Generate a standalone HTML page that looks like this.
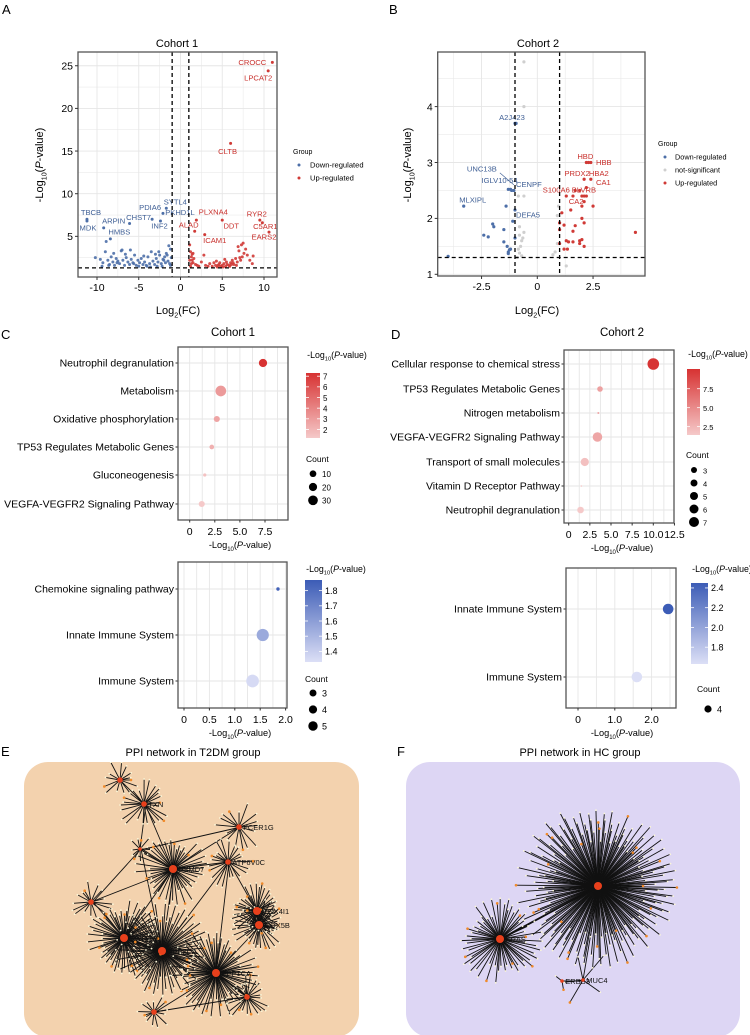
<!DOCTYPE html>
<html><head><meta charset="utf-8"><style>
body{margin:0;background:#fff}
svg{display:block;font-family:"Liberation Sans",Arial,sans-serif}
</style></head><body>
<svg id="fig" xmlns="http://www.w3.org/2000/svg" width="750" height="1035" viewBox="0 0 750 1035">
<rect width="750" height="1035" fill="#fff"/>
<g font-size="13" fill="#000">
<text x="2" y="14">A</text>
<text x="389" y="14">B</text>
<text x="1" y="339">C</text>
<text x="391" y="339">D</text>
<text x="1" y="756">E</text>
<text x="397" y="756">F</text>
</g>
</svg>
<script>
const NS='http://www.w3.org/2000/svg';
const svg=document.getElementById('fig');
function el(tag,attrs,parent,txt){const e=document.createElementNS(NS,tag);for(const k in attrs)e.setAttribute(k,attrs[k]);if(txt!==undefined)e.textContent=txt;(parent||svg).appendChild(e);return e;}
function lin(a,b){return v=>a+b*v;}

/* ---------- DATA: volcano A ---------- */
const aDownX=[-10.2,-9.6,-9.3,-9,-8.7,-8.5,-8.3,-8.1,-7.9,-7.7,-7.5,-7.3,-7.1,-6.9,-6.7,-6.5,-6.3,-6.1,-5.9,-5.7,-5.5,-5.3,-5.1,-4.9,-4.7,-4.5,-4.3,-4.1,-3.9,-3.7,-3.5,-3.3,-3.1,-2.9,-2.7,-2.5,-2.3,-2.1,-1.9,-1.7,-1.5,-1.3,-1.1,-8.9,-8.0,-7.0,-6.0,-5.0,-4.0,-3.0,-2.0,-1.4,-1.2,-2.6,-3.6,-6.6,-7.6,-9.4,-8.6,-5.6,-4.4,-2.2,-1.6,-1.2,-1.8,-2.8];
const aDownY=[2.5,2.3,1.9,3.2,2.2,1.7,2.6,2.0,1.6,2.4,2.1,1.8,3.3,2.2,1.6,2.5,2.0,1.7,2.3,1.9,2.8,1.6,2.2,1.9,2.4,1.7,2.0,1.6,2.6,1.8,3.2,2.1,1.7,2.4,2.0,2.8,1.8,2.3,2.6,3.0,2.1,1.8,2.5,4.4,3.0,3.4,3.4,1.5,1.5,2.9,2.2,3.9,1.6,3.2,1.4,2.9,1.9,1.5,1.6,1.8,2.7,1.5,2.8,3.5,1.9,1.5];
const aUpX=[1.1,1.2,1.3,1.4,1.5,1.6,1.8,2.0,2.2,2.5,3.0,3.5,3.8,4.0,4.2,4.4,4.6,4.8,5.0,5.2,5.4,5.6,5.8,6.0,6.2,6.4,6.6,6.8,7.0,7.2,7.4,7.6,7.8,8.0,8.3,8.7,1.1,1.3,1.5,1.2,4.3,4.7,5.1,5.5,5.9,6.3,6.7,7.1,7.5,4.5,5.3,6.1,6.9,1.4,2.8,3.3,7.3,8.6];
const aUpY=[4.0,3.2,2.6,2.2,1.9,2.4,1.7,1.6,1.5,2.0,1.6,1.8,1.5,1.9,1.6,1.4,1.7,1.5,1.6,1.8,1.5,1.7,1.6,1.9,2.2,1.7,2.4,2.0,3.3,2.2,2.6,3.0,3.5,2.8,2.2,2.7,2.2,1.8,3.0,1.5,2.1,1.9,1.4,2.0,1.5,1.9,1.6,2.5,4.2,1.6,2.3,1.7,3.8,2.9,2.8,1.5,4.0,1.8];
const aLabNames=['CROCC','LPCAT2','CLTB','SYTL4','PKHD1L','PDIA6','CHST7','INF2','TBCB','MDK','ARPIN','HMBS','PLXNA4','ALAD','ICAM1','DDT','RYR2','C5AR1','EARS2'];
const aLabX=[11,10.5,6,-1.7,-2.1,-3.4,-6.1,-2.4,-11.2,-11.2,-9.2,-8.4,1.9,1.7,2.9,5,9.5,9.8,10.6];
const aLabY=[25.4,24.4,15.9,8.3,7.7,7,6.5,6.8,7,6.8,6,4.7,6.9,5.6,5.2,6.9,6.9,6.6,5.5];
const aLabDx=[-20,-10,-3,9,17,-2,9,-1,4,1,10,9,17,-6,10,9,-3,3,-5];
const aLabDy=[0,7,8,-6,-1,-12,-6,5,-7,7,-7,-7,-8,-6,6,6,-6,4,5];
const aXTicks=[-10,-5,0,5,10];
const aYTicks=[5,10,15,20,25];

/* ---------- DATA: volcano B ---------- */
const bDownX=[-4,-3.3,-2.4,-2.2,-2,-1.95,-1.5,-1.4,-1.5,-1.35,-1.3,-1.25,-1.2,-1.3,-1.1,-1,-1.0,-1,-0.95,-1.3,-1.2,-1.15,-1.05];
const bDownY=[1.32,2.22,1.7,1.67,1.9,1.85,1.8,2.22,1.58,1.5,1.4,1.44,1.45,1.37,1.95,2.15,1.65,3.7,3.7,2.52,2.52,2.5,2.5];
const bNsX=[-0.6,-0.6,-0.6,-0.85,-0.8,-0.8,-0.6,-0.65,-0.7,-0.75,-0.85,-0.8,-0.7,-0.9,0.7,0.8,0.9,0.9,0.95,1.3];
const bNsY=[4.8,4,2.4,2.4,1.85,1.7,1.75,1.65,1.6,1.5,1.45,1.38,1.33,1.3,1.35,1.4,1.55,2.05,2.22,1.15];
const bUpX=[2.2,2.3,2.4,2.1,2.4,2.2,1.7,1.9,1.3,1.6,2,2.1,2.2,2.1,2.0,2.5,1.5,1.1,1.2,1,1.7,2.0,2.1,1.6,1,1.3,1.4,1.6,1.9,2.0,1.9,2.1,1.2,1.35,1,4.4];
const bUpY=[3,3,3,2.7,2.7,2.55,2.5,2.5,2.4,2.4,2.4,2.4,2.4,2.3,2.22,2.22,2.15,2.1,1.88,1.92,1.87,2.0,1.92,1.77,1.8,1.6,1.58,1.58,1.6,1.62,1.55,1.5,1.45,1.45,1.55,1.75];
const bLabNames=['A2J423','UNC13B','IGLV10-54','CENPF','MLXIPL','DEFA5','HBD','HBB','PRDX2','HBA2','CA1','S100A6','BLVRB','CA2'];
const bLabX=[-1,-1.05,-1.2,-1.05,-3.3,-1,2.2,2.4,2.1,2.4,2.2,1.3,2,2.1];
const bLabY=[3.7,2.6,2.52,2.5,2.22,2.15,3,3,2.7,2.7,2.55,2.4,2.4,2.3];
const bLabDx=[-3,-32,-11,15,9,13,-1,13,-7,8,17,-10,2,-8];
const bLabDy=[-6,-16,-9,-6,-6,5,-6,0,-6,-6,-5,-6,-6,0];
const bXTicks=[-2.5,0,2.5];
const bYTicks=[1,2,3,4];

/* ---------- DATA: enrichment ---------- */
const c1Terms=['Neutrophil degranulation','Metabolism','Oxidative phosphorylation','TP53 Regulates Metabolic Genes','Gluconeogenesis','VEGFA-VEGFR2 Signaling Pathway'];
const c1Vals=[7.3,3.1,2.7,2.2,1.5,1.2];
const c1Counts=[22,32,13,7,1,13];
const c1Ticks=[0,2.5,5,7.5];
const c1TickLabels=['0','2.5','5.0','7.5'];
const c1ColTicks=[7,6,5,4,3,2];
const c1CountLegend=[10,20,30];
const c2Terms=['Chemokine signaling pathway','Innate Immune System','Immune System'];
const c2Vals=[1.85,1.55,1.35];
const c2Counts=[3,5,5.1];
const c2Ticks=[0,0.5,1,1.5,2];
const c2TickLabels=['0','0.5','1.0','1.5','2.0'];
const c2ColTicks=[1.8,1.7,1.6,1.5,1.4];
const c2CountLegend=[3,4,5];
const d1Terms=['Cellular response to chemical stress','TP53 Regulates Metabolic Genes','Nitrogen metabolism','VEGFA-VEGFR2 Signaling Pathway','Transport of small molecules','Vitamin D Receptor Pathway','Neutrophil degranulation'];
const d1Vals=[10.0,3.7,3.5,3.4,1.9,1.5,1.4];
const d1Counts=[7,4,2.2,6,5.3,2,4.5];
const d1Ticks=[0,2.5,5,7.5,10,12.5];
const d1TickLabels=['0','2.5','5.0','7.5','10.0','12.5'];
const d1ColTicks=[7.5,5.0,2.5];
const d1CountLegend=[3,4,5,6,7];
const d2Terms=['Innate Immune System','Immune System'];
const d2Vals=[2.45,1.6];
const d2Counts=[4,4];
const d2Ticks=[0,1,2];
const d2TickLabels=['0','1.0','2.0'];
const d2ColTicks=[2.4,2.2,2.0,1.8];
const d2CountLegend=[4];

const BLUE='#4d6fa8',RED='#d03a36',GREY='#cfcfcf';

function lerpCol(c0,c1,t){t=Math.max(0,Math.min(1,t));const p=s=>[1,3,5].map(i=>parseInt(s.substr(i,2),16));const a=p(c0),b=p(c1);return 'rgb('+a.map((v,i)=>Math.round(v+(b[i]-v)*t)).join(',')+')';}

function panelFrame(g,x0,y0,x1,y1){
  const r=el('rect',{x:x0,y:y0,width:x1-x0,height:y1-y0,fill:'#fff'},g);
  
}
function frameBorder(g,x0,y0,x1,y1){
  const r=el('rect',{x:x0,y:y0,width:x1-x0,height:y1-y0,fill:'none',stroke:'#555','stroke-width':1.3},g);
  
}
function vgrid(g,x,y0,y1,w){const l=el('line',{x1:x,x2:x,y1:y0,y2:y1,stroke:'#e6e6e6','stroke-width':w},g);}
function hgrid(g,y,x0,x1,w){const l=el('line',{x1:x0,x2:x1,y1:y,y2:y,stroke:'#e6e6e6','stroke-width':w},g);}
function logLabel(g,x,y,size,rot,pre,sub,name){
  const t=el('text',{x:x,y:y,'font-size':size,'text-anchor':'middle',transform:rot?`rotate(-90 ${x} ${y})`:''},g);
  
  el('tspan',{},t,pre);
  el('tspan',{'font-size':size*0.65,dy:size*0.3},t,sub);
  if(sub==='2'){el('tspan',{dy:-size*0.3},t,'(FC)');}
  else{el('tspan',{dy:-size*0.3},t,'(');el('tspan',{'font-style':'italic'},t,'P');el('tspan',{},t,'-value)');}
  return t;
}

/* ---------- Volcano A ---------- */
(function(){
  const g=el('g',{});
  const X0=78,X1=277,Y0=52,Y1=277;
  const xs=lin(180.5,8.35),ys=lin(279,-8.53);
  panelFrame(g,X0,Y0,X1,Y1);
  for(let v=-12.5;v<=12.5;v+=2.5){const px=xs(v);if(px>X0&&px<X1)vgrid(g,px,Y0,Y1,v%5===0?0.9:0.5);}
  for(let v=2.5;v<=27.5;v+=2.5){const py=ys(v);if(py>Y0&&py<Y1)hgrid(g,py,X0,X1,v%5===0?0.9:0.5);}
  aDownX.forEach((x,i)=>{const c=el('circle',{cx:xs(x),cy:ys(aDownY[i]),r:1.5,fill:BLUE,opacity:0.9},g);});
  aUpX.forEach((x,i)=>{const c=el('circle',{cx:xs(x),cy:ys(aUpY[i]),r:1.5,fill:RED,opacity:0.9},g);});
  aLabNames.forEach((n,i)=>{const up=aLabX[i]>0;const px=xs(aLabX[i]),py=ys(aLabY[i]);
    const c=el('circle',{cx:px,cy:py,r:1.5,fill:up?RED:BLUE},g);
    const t=el('text',{x:px+aLabDx[i],y:py+aLabDy[i]+2.5,'font-size':7.6,'text-anchor':'middle',fill:up?'#c8302c':'#3f5f95'},g,n);});
  [[xs(-1),Y0,xs(-1),Y1],[xs(1),Y0,xs(1),Y1],[X0,ys(1.3),X1,ys(1.3)]].forEach(d=>{const l=el('line',{x1:d[0],y1:d[1],x2:d[2],y2:d[3],stroke:'#000','stroke-width':1.3,'stroke-dasharray':'4,3'},g);});
  frameBorder(g,X0,Y0,X1,Y1);
  aXTicks.forEach(v=>{const l=el('line',{x1:xs(v),x2:xs(v),y1:Y1,y2:Y1+3,stroke:'#333'},g);
    const t=el('text',{x:xs(v),y:Y1+14,'font-size':10.5,'text-anchor':'middle'},g,String(v));});
  aYTicks.forEach(v=>{const l=el('line',{x1:X0-3,x2:X0,y1:ys(v),y2:ys(v),stroke:'#333'},g);
    const t=el('text',{x:X0-5,y:ys(v)+3.8,'font-size':10.5,'text-anchor':'end'},g,String(v));});
  const ti=el('text',{x:177,y:47,'font-size':11,'text-anchor':'middle'},g,'Cohort 1');
  logLabel(g,43,165,11,true,'-Log','10','y-axis-title');
  logLabel(g,178,314,11,false,'Log','2','x-axis-title');
  const lg=el('g',{},g);
  const lt=el('text',{x:293,y:154,'font-size':7},lg,'Group');
  [['Down-regulated',BLUE,165],['Up-regulated',RED,178]].forEach(e=>{const c=el('circle',{cx:299,cy:e[2],r:1.5,fill:e[1]},lg);
    const t=el('text',{x:310,y:e[2]+2.5,'font-size':7.6},lg,e[0]);});
})();

/* ---------- Volcano B ---------- */
(function(){
  const g=el('g',{});
  const X0=437.7,X1=645,Y0=52,Y1=276;
  const xs=lin(537.3,22.3),ys=v=>274.3-55.9*(v-1);
  panelFrame(g,X0,Y0,X1,Y1);
  for(let v=-5;v<=5;v+=1.25){const px=xs(v);if(px>X0&&px<X1)vgrid(g,px,Y0,Y1,Math.abs(v%2.5)<1e-6?0.9:0.5);}
  for(let v=0.5;v<=5.5;v+=0.5){const py=ys(v);if(py>Y0&&py<Y1)hgrid(g,py,X0,X1,v%1===0?0.9:0.5);}
  bNsX.forEach((x,i)=>{const c=el('circle',{cx:xs(x),cy:ys(bNsY[i]),r:1.6,fill:GREY},g);});
  bDownX.forEach((x,i)=>{const c=el('circle',{cx:xs(x),cy:ys(bDownY[i]),r:1.6,fill:BLUE},g);});
  bUpX.forEach((x,i)=>{const c=el('circle',{cx:xs(x),cy:ys(bUpY[i]),r:1.6,fill:RED},g);});
  bLabNames.forEach((n,i)=>{const up=bLabX[i]>0;const px=xs(bLabX[i]),py=ys(bLabY[i]);
    if(n==='UNC13B'){const l=el('line',{x1:px-14,y1:py-12,x2:px,y2:py,stroke:'#3f5f95','stroke-width':0.6},g);}
    const t=el('text',{x:px+bLabDx[i],y:py+bLabDy[i]+2.5,'font-size':7.6,'text-anchor':'middle',fill:up?'#c8302c':'#3f5f95'},g,n);});
  [[xs(-1),Y0,xs(-1),Y1],[xs(1),Y0,xs(1),Y1],[X0,ys(1.3),X1,ys(1.3)]].forEach(d=>{const l=el('line',{x1:d[0],y1:d[1],x2:d[2],y2:d[3],stroke:'#000','stroke-width':1.3,'stroke-dasharray':'4,3'},g);});
  frameBorder(g,X0,Y0,X1,Y1);
  bXTicks.forEach(v=>{const l=el('line',{x1:xs(v),x2:xs(v),y1:Y1,y2:Y1+3,stroke:'#333'},g);
    const t=el('text',{x:xs(v),y:Y1+14,'font-size':10.5,'text-anchor':'middle'},g,String(v));});
  bYTicks.forEach(v=>{const l=el('line',{x1:X0-3,x2:X0,y1:ys(v),y2:ys(v),stroke:'#333'},g);
    const t=el('text',{x:X0-5,y:ys(v)+3.8,'font-size':10.5,'text-anchor':'end'},g,String(v));});
  const ti=el('text',{x:538,y:47,'font-size':11,'text-anchor':'middle'},g,'Cohort 2');
  logLabel(g,411,165,11,true,'-Log','10','y-axis-title');
  logLabel(g,537,314,11,false,'Log','2','x-axis-title');
  const lg=el('g',{},g);
  const lt=el('text',{x:658,y:146,'font-size':7},lg,'Group');
  [['Down-regulated',BLUE,157],['not-significant',GREY,170],['Up-regulated',RED,183]].forEach(e=>{const c=el('circle',{cx:665,cy:e[2],r:1.5,fill:e[1]},lg);
    const t=el('text',{x:675,y:e[2]+2.5,'font-size':7.3},lg,e[0]);});
})();

/* ---------- Dot plots ---------- */
function dotPlot(o){
  const g=el('g',{});
  const xs=lin(o.x0v,o.xk);
  panelFrame(g,o.X0,o.Y0,o.X1,o.Y1);
  for(let v=o.gridStart;v<=o.gridEnd+1e-9;v+=o.gridStep){const px=xs(v);if(px>o.X0&&px<o.X1)vgrid(g,px,o.Y0,o.Y1,0.9);}
  o.terms.forEach((t,i)=>hgrid(g,o.cy[i],o.X0,o.X1,0.9));
  const vmin=o.cmin,vmax=o.cmax;
  o.terms.forEach((term,i)=>{
    const c=el('circle',{cx:xs(o.vals[i]),cy:o.cy[i],r:o.rad(o.counts[i]),fill:lerpCol(o.lo,o.hi,(o.vals[i]-vmin)/(vmax-vmin))},g);
    const tk=el('line',{x1:o.X0-2.5,x2:o.X0,y1:o.cy[i],y2:o.cy[i],stroke:'#333'},g);
    const t=el('text',{x:o.X0-4,y:o.cy[i]+3.6,'font-size':10.5,'text-anchor':'end'},g,term);
  });
  frameBorder(g,o.X0,o.Y0,o.X1,o.Y1);
  o.ticks.forEach((v,i)=>{const l=el('line',{x1:xs(v),x2:xs(v),y1:o.Y1,y2:o.Y1+2.5,stroke:'#333'},g);
    const t=el('text',{x:xs(v),y:o.Y1+15,'font-size':10.5,'text-anchor':'middle'},g,o.tickLabels[i]);});
  logLabel(g,o.xlabX,o.Y1+28,9.2,false,'-Log','10','x-axis-title');
  const id='grad'+o.name;
  const defs=el('defs',{},g);const lgd=el('linearGradient',{id:id,x1:0,y1:1,x2:0,y2:0},defs);
  el('stop',{offset:0,'stop-color':o.lo},lgd);el('stop',{offset:1,'stop-color':o.hi},lgd);
  const cb=o.cb;
  logLabel(g,cb.x+31,cb.ty,8.8,false,'-Log','10','legend-title');
  const rb=el('rect',{x:cb.x,y:cb.y0,width:cb.w,height:cb.y1-cb.y0,fill:`url(#${id})`},g);
  const cys=v=>cb.y1-(v-o.cmin)/(o.cmax-o.cmin)*(cb.y1-cb.y0);
  o.colTicks.forEach(v=>{const l=el('line',{x1:cb.x,x2:cb.x+3,y1:cys(v),y2:cys(v),stroke:'#fff','stroke-width':0.8},g);
    const l2=el('line',{x1:cb.x+cb.w-3,x2:cb.x+cb.w,y1:cys(v),y2:cys(v),stroke:'#fff','stroke-width':0.8},g);
    const t=el('text',{x:cb.x+cb.w+3,y:cys(v)+3.3,'font-size':o.cbFont},g,o.colFmt(v));});
  const ct=el('text',{x:o.cnt.x,y:o.cnt.ty,'font-size':8.5},g,'Count');
  o.countLegend.forEach((v,i)=>{const y=o.cnt.y0+i*o.cnt.step;const c=el('circle',{cx:o.cnt.dx,cy:y,r:o.legRad(v),fill:'#000'},g);
    const t=el('text',{x:o.cnt.dx+9,y:y+3.3,'font-size':o.cbFont},g,String(v));});
  if(o.title){const ti=el('text',{x:o.title[0],y:o.title[1],'font-size':11.5,'text-anchor':'middle'},g,o.title[2]);}
}
dotPlot({name:'enrichment-cohort1-up',X0:178,X1:288,Y0:347,Y1:520,x0v:189.7,xk:10.04,gridStart:-1.25,gridEnd:10,gridStep:1.25,
  terms:c1Terms,vals:c1Vals,counts:c1Counts,cy:[363,391,419,447,475,504],rad:c=>1.5+c*0.12,legRad:c=>2.6+c*0.075,
  lo:'#f5c9c9',hi:'#d73232',cmin:1.2,cmax:7.3,ticks:c1Ticks,tickLabels:c1TickLabels,xlabX:240,
  cb:{x:306,w:14,y0:373,y1:438,ty:358},colTicks:c1ColTicks,colFmt:v=>String(v),cbFont:8,
  cnt:{x:306,ty:462,dx:313,y0:473.7,step:13.3},countLegend:c1CountLegend,title:[233,336,'Cohort 1']});
dotPlot({name:'enrichment-cohort1-down',X0:178,X1:287,Y0:562,Y1:708,x0v:184,xk:50.8,gridStart:-0.25,gridEnd:2.25,gridStep:0.25,
  terms:c2Terms,vals:c2Vals,counts:c2Counts,cy:[589,635,681],rad:c=>1.7+(c-3)*2.2,legRad:c=>3.5+(c-3)*0.6,
  lo:'#dcdff6',hi:'#3c5cb6',cmin:1.33,cmax:1.87,ticks:c2Ticks,tickLabels:c2TickLabels,xlabX:240,
  cb:{x:305,w:17,y0:580,y1:662,ty:572},colTicks:c2ColTicks,colFmt:v=>v.toFixed(1),cbFont:9,
  cnt:{x:305,ty:682,dx:313,y0:693,step:16.5},countLegend:c2CountLegend});
dotPlot({name:'enrichment-cohort2-up',X0:564,X1:674,Y0:350,Y1:523,x0v:568.7,xk:8.46,gridStart:0,gridEnd:12.5,gridStep:1.25,
  terms:d1Terms,vals:d1Vals,counts:d1Counts,cy:[364,389,413,437,462,486,510],rad:c=>0.8+(c-2)*1.0,legRad:c=>3+(c-3)*0.5,
  lo:'#f5c9c9',hi:'#d73232',cmin:1.4,cmax:10.1,ticks:d1Ticks,tickLabels:d1TickLabels,xlabX:622,
  cb:{x:687,w:13,y0:369,y1:435,ty:357},colTicks:d1ColTicks,colFmt:v=>v.toFixed(1),cbFont:7.5,
  cnt:{x:686,ty:458,dx:694,y0:470,step:13},countLegend:d1CountLegend,title:[622,336,'Cohort 2']});
dotPlot({name:'enrichment-cohort2-down',X0:566,X1:676,Y0:568,Y1:708,x0v:578,xk:36.8,gridStart:-0.5,gridEnd:3,gridStep:0.5,
  terms:d2Terms,vals:d2Vals,counts:d2Counts,cy:[609,677],rad:c=>5.3,legRad:c=>3.6,
  lo:'#dcdff6',hi:'#3c5cb6',cmin:1.63,cmax:2.45,ticks:d2Ticks,tickLabels:d2TickLabels,xlabX:622,
  cb:{x:691,w:17,y0:583,y1:664,ty:572},colTicks:d2ColTicks,colFmt:v=>v.toFixed(1),cbFont:9,
  cnt:{x:697,ty:692,dx:708,y0:709,step:14},countLegend:d2CountLegend});

/* ---------- Networks ---------- */
const eHubX=[120,144,239,140,173,228,91,257,259,124,162,216,247,154];
const eHubY=[780,804,827,849,869,862,902,911,925,938,951,973,997,1012];
const eHubN=[14,24,16,10,50,22,16,40,40,70,90,75,24,14];
const eHubL=[20,27,26,14,38,26,22,28,28,40,48,46,24,18];
const eHubNames=['','TXN','FCER1G','','PSMD7','ATP6V0C','','COX4I1','COX5B','YWHAQ','PPP2CA','PPP1CA','',''];
const eEdges=[[0,1],[1,4],[1,3],[3,4],[2,4],[2,3],[4,5],[5,7],[7,8],[4,9],[4,10],[9,10],[10,11],[9,11],[6,9],[6,4],[11,12],[11,13],[13,12],[5,11],[8,11],[10,5],[3,10],[6,3]];
const fHubX=[598,500,562,583];
const fHubY=[886,939,981,980];
const fHubN=[200,65,2,5];
const fHubL=[82,44,10,32];
const fHubNames=['AKT1','KRAS','ERBB3','MUC4'];
const fEdges=[[0,1],[0,1],[0,1],[2,3],[0,3],[1,0]];

function network(name,bx,bcol,hx,hy,hn,hl,names,edges,title,tx){
  const g=el('g',{});
  const ti=el('text',{x:tx,y:756,'font-size':11,'text-anchor':'middle'},g,title);
  const bg=el('rect',{x:bx[0],y:762,width:bx[1]-bx[0],height:275,rx:24,fill:bcol},g);
  const clip=el('clipPath',{id:'clip'+name},g);el('rect',{x:bx[0],y:762,width:bx[1]-bx[0],height:273},clip);
  const ng=el('g',{'clip-path':`url(#clip${name})`},g);
  const leaves=[];
  hx.forEach((x,h)=>{
    for(let i=0;i<hn[h];i++){
      const a=i*2.39996+h*0.7;const f=0.55+0.45*(((i*37+h*11)%13)/12);
      const lx=x+Math.cos(a)*hl[h]*f,ly=hy[h]+Math.sin(a)*hl[h]*f;
      const l=el('line',{x1:x,y1:hy[h],x2:lx,y2:ly,stroke:'#111','stroke-width':0.9},ng);
      leaves.push([lx,ly,(i%9===0)]);
    }
  });
  edges.forEach((e,k)=>{const l=el('line',{x1:hx[e[0]]+k%3,y1:hy[e[0]],x2:hx[e[1]],y2:hy[e[1]]+k%2,stroke:'#111','stroke-width':0.9},ng);});
  leaves.forEach(p=>{const c=el('circle',{cx:p[0],cy:p[1],r:p[2]?1.3:0.9,fill:p[2]?'#f08a2a':'#fbf6d8'},ng);});
  hx.forEach((x,h)=>{const r=hn[h]>35?4:(hn[h]>10?2.8:1.8);const c=el('circle',{cx:x,cy:hy[h],r:r,fill:'#e8401c'},ng);
    if(names[h]){const t=el('text',{x:x+r+1.5,y:hy[h]+3,'font-size':7.5,fill:'#111'},ng,names[h]);}});
}
network('ppi-network-t2dm',[24,359],'#f3d2ae',eHubX,eHubY,eHubN,eHubL,eHubNames,eEdges,'PPI network in T2DM group',193);
network('ppi-network-hc',[406,740],'#ddd6f4',fHubX,fHubY,fHubN,fHubL,fHubNames,fEdges,'PPI network in HC group',580);
</script>
</body></html>
